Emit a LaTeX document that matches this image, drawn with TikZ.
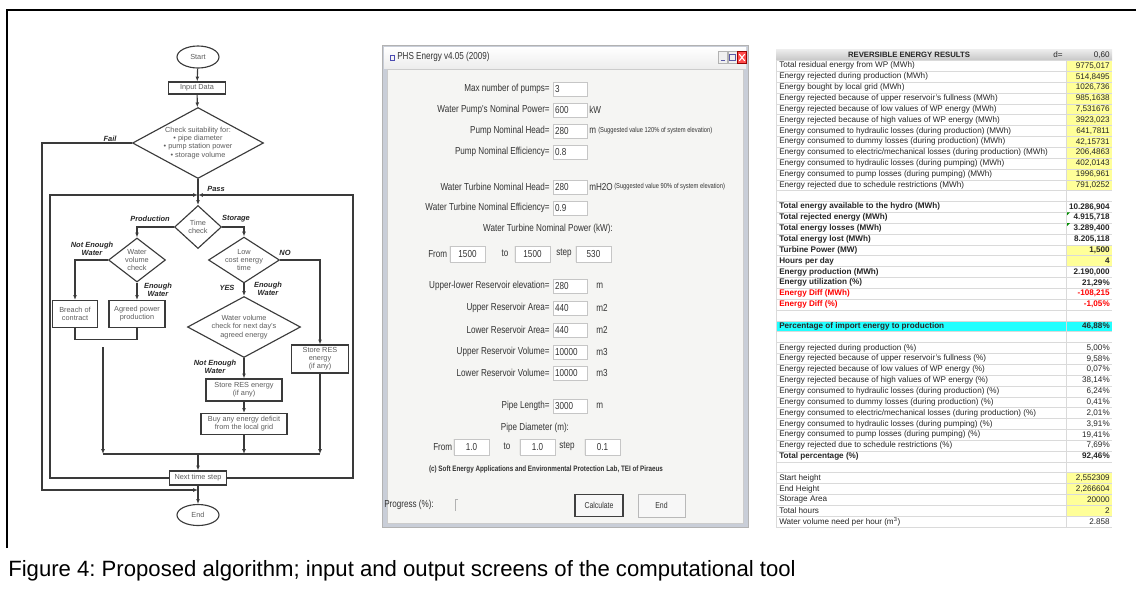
\documentclass[tikz,border=0pt]{standalone}
\usepackage{fontspec}
\setmainfont{Liberation Sans}
\newfontfamily\dlgfont[FakeStretch=0.8]{Liberation Sans}
\usetikzlibrary{shapes.geometric,arrows.meta}

\definecolor{fcline}{HTML}{3A3A3A}
\definecolor{fctext}{HTML}{5C5C5C}
\definecolor{winframe}{HTML}{C9CED8}
\definecolor{dlgbg}{HTML}{F5F5F3}
\definecolor{xlyellow}{HTML}{FFFF99}
\definecolor{xlcyan}{HTML}{22FFFF}
\definecolor{xlgrid}{HTML}{DADADA}

\tikzset{
  fc/.style={draw=fcline, line width=0.85pt, text=fctext, align=center, inner sep=0pt, font=\fontsize{5.5}{6.1}\selectfont},
  term/.style={fc, ellipse, minimum width=31.5pt, minimum height=16.5pt},
  proc/.style={fc, rectangle},
  dec/.style={fc, diamond},
  arr/.style={draw=fcline, line width=0.85pt, -{Latex[length=3.6pt,width=2.8pt]}},
  lin/.style={draw=fcline, line width=0.85pt},
  fclab/.style={font=\fontsize{5.6}{6.3}\selectfont\bfseries\itshape, text=black!85, align=center, inner sep=0pt},
  dlg/.style={font=\dlgfont\fontsize{7.6}{8}\selectfont, text=black!80, inner sep=0pt},
  sunk/.style={path picture={\draw[gray!75, line width=1pt] (path picture bounding box.south west) -- (path picture bounding box.north west) -- (path picture bounding box.north east);}},
  tbox/.style={dlg, sunk, draw=gray!45, fill=white, minimum height=10.5pt, text width=22.5pt, inner xsep=1.5pt, align=left},
  fbox/.style={dlg, sunk, draw=gray!45, fill=white, minimum height=12pt, text width=24pt, inner xsep=1.2pt, align=center},
  btn/.style={dlg, font=\dlgfont\fontsize{6.5}{7}\selectfont, fill=gray!6, draw=gray!55},
  xl/.style={font=\fontsize{6.1}{6.8}\selectfont, text=black!85, inner sep=0pt},
  xlb/.style={xl, font=\fontsize{6.1}{6.8}\selectfont\bfseries},
}

\begin{document}
\frenchspacing
\begin{tikzpicture}[x=0.75pt,y=-0.75pt]
\useasboundingbox (0,0) rectangle (1136,590);
% Cornice
\draw[line width=2pt] (7,548) -- (7,10) -- (1136,10);

% Diagramma di flusso
\node[term] (start) at (198,57) {Start};
\node[proc, minimum width=42.75pt, minimum height=9pt] (input) at (197,88) {Input Data};
\node[dec, shape aspect=1.85, minimum width=98.25pt, minimum height=53.25pt] (check) at (198,143) {Check suitability for:\\\textbullet{} pipe diameter\\\textbullet{} pump station power\\\textbullet{} storage volume};
\node[dec, minimum width=35.25pt, minimum height=32.25pt] (time) at (198,227) {Time\\check};
\node[dec, shape aspect=1.3, minimum width=42.75pt, minimum height=33pt] (wvc) at (137,260) {Water\\volume\\check};
\node[dec, shape aspect=1.55, minimum width=51pt, minimum height=33pt] (lowcost) at (244,260) {Low\\cost energy\\time};
\node[proc, minimum width=33.75pt, minimum height=20.25pt] (breach) at (75,314) {Breach of\\contract};
\node[proc, minimum width=42pt, minimum height=20.25pt] (agreed) at (137,314) {Agreed power\\production};
\node[dec, shape aspect=1.85, minimum width=84.75pt, minimum height=45.75pt] (nextday) at (244,327) {Water volume\\check for next day's\\agreed energy};
\node[proc, minimum width=42.75pt, minimum height=21pt] (storeno) at (320,359) {Store RES\\energy\\(if any)};
\node[proc, minimum width=57pt, minimum height=16.5pt] (storeyes) at (244,390) {Store RES energy\\(if any)};
\node[proc, minimum width=64.5pt, minimum height=15.75pt] (buy) at (244,424) {Buy any energy deficit\\from the local grid};
\node[proc, minimum width=42.75pt, minimum height=10.5pt] (nextstep) at (198,478) {Next time step};
\node[term, minimum height=15.75pt] (stop) at (198,515) {End};

\coordinate (pass) at (198,195);
\coordinate (loopL) at (50,195);
\coordinate (loopR) at (353,195);
\coordinate (failT) at (42,143);
\coordinate (failB) at (42,490);
\coordinate (failE) at (198,490);
\coordinate (prodT) at (103,347);
\coordinate (prodB) at (103,454);
\coordinate (joinM) at (198,454);
\coordinate (joinS) at (244,454);
\coordinate (joinR) at (320,454);

\draw[arr] (start) -- (input);
\draw[arr] (input) -- (check);
\draw[arr] (check.west) -- (failT) -- (failB) -- (failE);
\draw[lin] (check.south) -- (pass);
\draw[arr] (nextstep.west) -| (loopL) -- (pass);
\draw[arr] (nextstep.east) -| (loopR) -- (pass);
\draw[arr] (pass) -- (time);
\draw[arr] (time.west) -| (wvc.north);
\draw[arr] (time.east) -| (lowcost.north);
\draw[arr] (wvc.west) -| (breach.north);
\draw[arr] (wvc.south) -- (agreed.north);
\draw[lin] (breach.south) -- ++(0,11) -| (agreed.south);
\draw[arr] (prodT) -- (prodB);
\draw[lin] (prodB) -- (joinR);
\draw[arr] (lowcost.east) -| (storeno.north);
\draw[arr] (storeno.south) -- (joinR);
\draw[arr] (lowcost.south) -- (nextday.north);
\draw[arr] (nextday.south) -- (storeyes.north);
\draw[arr] (storeyes.south) -- (buy.north);
\draw[arr] (buy.south) -- (joinS);
\draw[arr] (joinM) -- (nextstep.north);
\draw[arr] (nextstep.south) -- (stop.north);

\node[fclab] (lfail) at (110,139) {Fail};
\node[fclab] (lpass) at (216,189) {Pass};
\node[fclab] (lprod) at (150,219) {Production};
\node[fclab] (lstor) at (236,219) {Storage};
\node[fclab] (lnotA) at (92,249) {Not Enough\\Water};
\node[fclab] (lno) at (285,253) {NO};
\node[fclab] (lenA) at (158,290) {Enough\\Water};
\node[fclab] (lyes) at (227,288) {YES};
\node[fclab] (lenB) at (268,289) {Enough\\Water};
\node[fclab] (lnotB) at (215,367) {Not Enough\\Water};

% Finestra di input
\fill[winframe] (382,45) rectangle (748,527);
\draw[gray!60] (382,45) rectangle (748,527);
\shade[top color=white, bottom color=gray!14] (384,47) rectangle (746,68);
\fill[dlgbg] (387,69) rectangle (743,523);
\draw[gray!40] (387,69) rectangle (743,523);
\draw[blue!40!gray, line width=0.7pt] (390,55) -- (394,55) -- (394,60) -- (390,60) -- cycle;
\node[dlg, anchor=west] (title) at (397,57) {PHS Energy v4.05 (2009)};
\node[draw=gray!60, fill=gray!12, minimum width=6.75pt, minimum height=9pt, inner sep=0pt] (bmin) at (722.5,57.5) {};
\node[draw=gray!60, fill=gray!12, minimum width=6.75pt, minimum height=9pt, inner sep=0pt] (bmax) at (732.5,57.5) {};
\node[draw=red!60!black, fill=red!70, minimum width=6.75pt, minimum height=9pt, inner sep=0pt] (bclose) at (742,57.5) {};
\draw[gray!70!blue, line width=0.8pt] ([xshift=-1.5pt,yshift=-2.5pt]bmin.center) -- ([xshift=1.5pt,yshift=-2.5pt]bmin.center);
\draw[gray!70!blue, line width=0.6pt] ([xshift=-2pt,yshift=-2pt]bmax.center) rectangle ([xshift=2pt,yshift=2pt]bmax.center);
\draw[white, line width=0.8pt] ([xshift=-2pt,yshift=-2.5pt]bclose.center) -- ([xshift=2pt,yshift=2.5pt]bclose.center);
\draw[white, line width=0.8pt] ([xshift=-2pt,yshift=2.5pt]bclose.center) -- ([xshift=2pt,yshift=-2.5pt]bclose.center);

\foreach \yy/\lab/\val in {89/{Max number of pumps=}/3, 110/{Water Pump's Nominal Power=}/600,
  131/{Pump Nominal Head=}/280, 152/{Pump Nominal Efficiency=}/0.8,
  187/{Water Turbine Nominal Head=}/280, 208/{Water Turbine Nominal Efficiency=}/0.9,
  286/{Upper-lower Reservoir elevation=}/280, 308/{Upper Reservoir Area=}/440,
  330/{Lower Reservoir Area=}/440, 352/{Upper Reservoir Volume=}/10000,
  373/{Lower Reservoir Volume=}/10000, 406/{Pipe Length=}/3000}
{
  \node[dlg, anchor=east] (lab\yy) at (550,\yy) {\lab};
  \node[tbox] (box\yy) at (570,\yy) {\val};
}
\foreach \yy/\unit in {110/kW, 131/m, 187/mH2O}
  \node[dlg, anchor=west] (unit\yy) at (589,\yy) {\unit};
\foreach \yy/\unit in {286/m, 308/m2, 330/m2, 352/m3, 373/m3, 406/m}
  \node[dlg, anchor=west] (unit\yy) at (596,\yy) {\unit};
\node[dlg, font=\dlgfont\fontsize{5.4}{6}\selectfont, anchor=west] (sugA) at (598,131) {(Suggested value 120\% of system elevation)};
\node[dlg, font=\dlgfont\fontsize{5.4}{6}\selectfont, anchor=west] (sugB) at (614,187) {(Suggested value 90\% of system elevation)};

\node[dlg] (wtnp) at (548,229) {Water Turbine Nominal Power (kW):};
\node[dlg, anchor=west] (fromA) at (428,254) {From};
\node[fbox] (fbA1) at (467.5,254) {1500};
\node[dlg] (toA) at (505,253) {to};
\node[fbox] (fbA2) at (532.5,254) {1500};
\node[dlg, anchor=west] (stepA) at (556,253) {step};
\node[fbox] (fbA3) at (593.5,254) {530};

\node[dlg] (pdiam) at (535,428) {Pipe Diameter (m):};
\node[dlg, anchor=west] (fromB) at (433,447) {From};
\node[fbox] (fbB1) at (471.5,447) {1.0};
\node[dlg] (toB) at (507,446) {to};
\node[fbox] (fbB2) at (537.5,447) {1.0};
\node[dlg, anchor=west] (stepB) at (559,446) {step};
\node[fbox] (fbB3) at (602.5,447) {0.1};

\node[dlg, font=\dlgfont\fontsize{5.9}{6.5}\selectfont\bfseries] (credit) at (546,469) {(c) Soft Energy Applications and Environmental Protection Lab, TEI of Piraeus};
\node[dlg, anchor=west] (prog) at (384,505) {Progress (\%):};
\draw[gray!60] (458,499) -- (455,499) -- (455,511);
\node[btn, draw=black!75, line width=0.9pt, minimum width=36pt, minimum height=17pt] (calc) at (599,505.5) {Calculate};
\node[btn, minimum width=35pt, minimum height=17pt] (endbtn) at (661.5,505.5) {End};

% Tabella dei risultati
\fill[white] (776,49.6) rectangle (1112,527);
\shade[top color=gray!15, bottom color=gray!45] (776,49.6) rectangle (1112,60.4);
\fill[xlyellow] (1066,{55+0.5*10.85}) rectangle (1112,{55+12.5*10.85});
\fill[xlyellow] (1066,{55+17.5*10.85}) rectangle (1112,{55+19.5*10.85});
\fill[xlyellow] (1066,{55+38.5*10.85}) rectangle (1112,{55+42.5*10.85});
\fill[xlcyan] (776,{55+24.5*10.85}) rectangle (1112,{55+25.5*10.85});
\foreach \i in {0,...,43}
  \draw[xlgrid] (776,{55+(\i+0.5)*10.85}) -- (1112,{55+(\i+0.5)*10.85});
\draw[xlgrid] (1066,60.4) -- (1066,527);
\draw[xlgrid] (776,60.4) -- (776,527);

\node[xlb, font=\fontsize{5.8}{6.3}\selectfont\bfseries] (thead) at (909,55) {REVERSIBLE ENERGY RESULTS};
\node[xl] (dlab) at (1058,55) {d=};
\node[xl, anchor=east] (dval) at (1110,55) {0,60};

\foreach \i/\lab/\val in {
  1/{Total residual energy from WP (MWh)}/{9775,017},
  2/{Energy rejected during production (MWh)}/{514,8495},
  3/{Energy bought by local grid (MWh)}/{1026,736},
  4/{Energy rejected because of upper reservoir's fullness (MWh)}/{985,1638},
  5/{Energy rejected because of low values of WP energy (MWh)}/{7,531676},
  6/{Energy rejected because of high values of WP energy (MWh)}/{3923,023},
  7/{Energy consumed to hydraulic losses (during production) (MWh)}/{641,7811},
  8/{Energy consumed to dummy losses (during production) (MWh)}/{42,15731},
  9/{Energy consumed to electric/mechanical losses (during production) (MWh)}/{206,4863},
  10/{Energy consumed to hydraulic losses (during pumping) (MWh)}/{402,0143},
  11/{Energy consumed to pump losses (during pumping) (MWh)}/{1996,961},
  12/{Energy rejected due to schedule restrictions (MWh)}/{791,0252},
  27/{Energy rejected during production (\%)}/{5,00\%},
  28/{Energy rejected because of upper reservoir's fullness (\%)}/{9,58\%},
  29/{Energy rejected because of low values of WP energy (\%)}/{0,07\%},
  30/{Energy rejected because of high values of WP energy (\%)}/{38,14\%},
  31/{Energy consumed to hydraulic losses (during production) (\%)}/{6,24\%},
  32/{Energy consumed to dummy losses (during production) (\%)}/{0,41\%},
  33/{Energy consumed to electric/mechanical losses (during production) (\%)}/{2,01\%},
  34/{Energy consumed to hydraulic losses (during pumping) (\%)}/{3,91\%},
  35/{Energy consumed to pump losses (during pumping) (\%)}/{19,41\%},
  36/{Energy rejected due to schedule restrictions (\%)}/{7,69\%},
  39/{Start height}/{2,552309},
  40/{End Height}/{2,266604},
  41/{Storage Area}/{20000},
  42/{Total hours}/{2},
  43/{Water volume need per hour (m\textsuperscript{3})}/{2.858}}
{
  \node[xl, anchor=west] (t\i) at (779,{55+\i*10.85}) {\lab};
  \node[xl, anchor=east] (v\i) at (1110,{55+\i*10.85}) {\val};
}
\foreach \i/\lab/\val in {
  14/{Total energy available to the hydro (MWh)}/{10.286,904},
  15/{Total rejected energy (MWh)}/{4.915,718},
  16/{Total energy losses (MWh)}/{3.289,400},
  17/{Total energy lost (MWh)}/{8.205,118},
  18/{Turbine Power (MW)}/{1,500},
  19/{Hours per day}/{4},
  20/{Energy production (MWh)}/{2.190,000},
  21/{Energy utilization (\%)}/{21,29\%},
  25/{Percentage of import energy to production}/{46,88\%},
  37/{Total percentage (\%)}/{92,46\%}}
{
  \node[xlb, anchor=west] (t\i) at (779,{55+\i*10.85}) {\lab};
  \node[xlb, anchor=east] (v\i) at (1110,{55+\i*10.85}) {\val};
}
\foreach \i/\lab/\val in {22/{Energy Diff (MWh)}/{-108,215}, 23/{Energy Diff (\%)}/{-1,05\%}}
{
  \node[xlb, text=red, anchor=west] (t\i) at (779,{55+\i*10.85}) {\lab};
  \node[xlb, text=red, anchor=east] (v\i) at (1110,{55+\i*10.85}) {\val};
}
\foreach \i in {15,16}
  \fill[green!55!black] (1067,{55+(\i-0.5)*10.85}) -- ++(3,0) -- ++(-3,3) -- cycle;

% Didascalia
\node[anchor=west, font=\fontsize{16.6}{19}\selectfont, inner sep=0pt] (caption) at (8,571) {Figure 4: Proposed algorithm; input and output screens of the computational tool};
\end{tikzpicture}
\end{document}
